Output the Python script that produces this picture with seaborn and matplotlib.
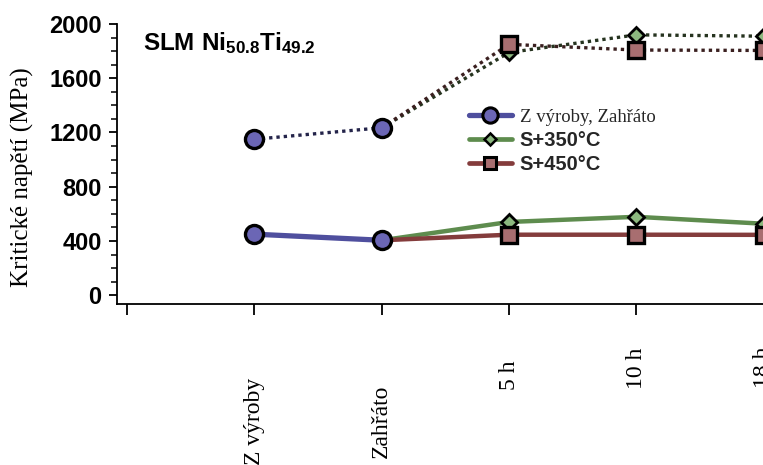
import numpy as np
import pandas as pd
import seaborn as sns
import matplotlib
matplotlib.use("Agg")
import matplotlib.pyplot as plt
from matplotlib.lines import Line2D
from matplotlib.ticker import MultipleLocator

# Categories along the x axis (position 0 is left blank)
categories = ["", "Z výroby", "Zahřáto", "5 h", "10 h", "18 h"]

# Critical stress (MPa) - lower branch (solid lines)
asbuilt_low = [450, 405]            # Z výroby, Zahřáto
s350_low = [405, 540, 578, 527]     # Zahřáto, 5 h, 10 h, 18 h
s450_low = [405, 446, 446, 445]

# Critical stress (MPa) - upper branch (dotted lines)
asbuilt_high = [1150, 1235]
s350_high = [1235, 1790, 1920, 1910]
s450_high = [1235, 1850, 1808, 1805]

legend_labels = ["Z výroby, Zahřáto", "S+350°C", "S+450°C"]

sns.set_theme(style="white")
plt.rcParams["font.family"] = ["Liberation Sans", "DejaVu Sans"]
plt.rcParams["mathtext.fontset"] = "custom"
plt.rcParams["mathtext.rm"] = "Liberation Sans:bold"
plt.rcParams["mathtext.bf"] = "Liberation Sans:bold"
plt.rcParams["mathtext.it"] = "Liberation Sans:bold"

W, H = 763, 465
fig = plt.figure(figsize=(W / 100, H / 100), dpi=100)
fig.patch.set_facecolor("white")

# axes placement in pixels
ax_left, ax_bottom_line, ax_top = 117, 304, 24
x_lo, x_hi = -0.08, 5.5
px_per_cat = 127.3
ax_w = (x_hi - x_lo) * px_per_cat
ax_h = ax_bottom_line - ax_top
ax = fig.add_axes([ax_left / W, (H - ax_bottom_line) / H, ax_w / W, ax_h / H])
ax.set_facecolor("white")

blue_line, blue_face = "#4f4f9e", "#6b66b5"
green_line, green_face = "#5e8c4e", "#8cb87f"
red_line, red_face = "#843c3c", "#a86e70"
blue_dot, green_dot, red_dot = "#24244a", "#26331f", "#3a1f1f"

x_asb = [1, 2]
x_ann = [2, 3, 4, 5]

circle = dict(marker="o", markersize=13, markerfacecolor=blue_face,
              markeredgecolor="black", markeredgewidth=2.4)
diamond = dict(marker="D", markersize=8, markerfacecolor=green_face,
               markeredgecolor="black", markeredgewidth=2.0)
square = dict(marker="s", markersize=11, markerfacecolor=red_face,
              markeredgecolor="black", markeredgewidth=2.4)

# upper branch, dotted
sns.lineplot(x=x_ann, y=s350_high, ax=ax, color=green_dot, lw=2.4,
             linestyle=(0, (1, 1.2)), sort=False, markevery=[1, 2, 3],
             clip_on=False, zorder=3, **diamond)
sns.lineplot(x=x_ann, y=s450_high, ax=ax, color=red_dot, lw=2.4,
             linestyle=(0, (1, 1.2)), sort=False, markevery=[1, 2, 3],
             clip_on=False, zorder=4, **square)
sns.lineplot(x=x_asb, y=asbuilt_high, ax=ax, color=blue_dot, lw=2.4,
             linestyle=(0, (1, 1.2)), sort=False, clip_on=False, zorder=5,
             **circle)

# lower branch, solid
sns.lineplot(x=x_ann, y=s350_low, ax=ax, color=green_line, lw=3.2,
             sort=False, markevery=[1, 2, 3], clip_on=False, zorder=3,
             **diamond)
sns.lineplot(x=x_ann, y=s450_low, ax=ax, color=red_line, lw=3.2,
             sort=False, markevery=[1, 2, 3], clip_on=False, zorder=4,
             **square)
sns.lineplot(x=x_asb, y=asbuilt_low, ax=ax, color=blue_line, lw=3.8,
             sort=False, clip_on=False, zorder=5, **circle)

ax.set_xlim(x_lo, x_hi)
ax.set_ylim(-65, 2000)
sns.despine(ax=ax, top=True, right=True)
for s in ("left", "bottom"):
    ax.spines[s].set_color("black")
    ax.spines[s].set_linewidth(1.3)
ax.spines["left"].set_bounds(-65, 2000)

ax.yaxis.set_major_locator(MultipleLocator(400))
ax.yaxis.set_minor_locator(MultipleLocator(100))
ax.set_yticks(np.arange(0, 2001, 400))
ax.set_yticklabels([str(v) for v in range(0, 2001, 400)],
                   fontsize=17, fontweight="bold", color="black")
ax.tick_params(axis="y", which="major", direction="out", length=6, width=1.3,
               left=True, pad=5, colors="black")
ax.tick_params(axis="y", which="minor", direction="out", length=4, width=1.1,
               left=True, colors="black")

ax.set_xticks(range(len(categories)))
ax.set_xticklabels([""] * len(categories))
ax.tick_params(axis="x", which="major", direction="out", length=8, width=1.3,
               bottom=True, colors="black")

# rotated category labels, each with its own drop below the axis
drops = [0, 74, 81, 56, 44, 43]
for i, lab in enumerate(categories):
    if not lab:
        continue
    ax.annotate(lab, xy=(i, 0), xycoords=("data", "axes fraction"),
                xytext=(0, -drops[i] * 0.72), textcoords="offset points",
                rotation=90, ha="center", va="top", fontsize=17,
                family=["Liberation Serif", "DejaVu Serif"], color="black",
                annotation_clip=False)

ax.set_ylabel("Kritické napětí (MPa)", fontsize=18,
              family=["Liberation Serif", "DejaVu Serif"], color="black")
ax.yaxis.set_label_coords(-83 / ax_w, 1 - (177 - ax_top) / ax_h)

fig.text(143 / W, 1 - 50 / H, r"$\mathbf{SLM\ Ni_{50.8}Ti_{49.2}}$",
         fontsize=17.5, color="black", va="baseline", ha="left")

leg_circle = dict(circle, markersize=11, markeredgewidth=2.2)
leg_diamond = dict(diamond, markersize=6.5, markeredgewidth=1.8)
leg_square = dict(square, markersize=9, markeredgewidth=2.2)
handles = [
    Line2D([], [], color=blue_line, lw=3.8, **leg_circle),
    Line2D([], [], color=green_line, lw=3.4, **leg_diamond),
    Line2D([], [], color=red_line, lw=3.4, **leg_square),
]
leg = fig.legend(handles, legend_labels, loc="upper left",
                 bbox_to_anchor=(469 / W, 1 - 108 / H),
                 frameon=False, fontsize=14, borderpad=0, borderaxespad=0,
                 handlelength=2.2, handletextpad=0.4, labelspacing=0.27)
texts = leg.get_texts()
texts[0].set_family(["Liberation Serif", "DejaVu Serif"])
texts[0].set_fontsize(13.5)
for t in texts[1:]:
    t.set_fontweight("bold")
    t.set_fontsize(14.5)

fig.savefig("out.png", dpi=100, facecolor="white")
